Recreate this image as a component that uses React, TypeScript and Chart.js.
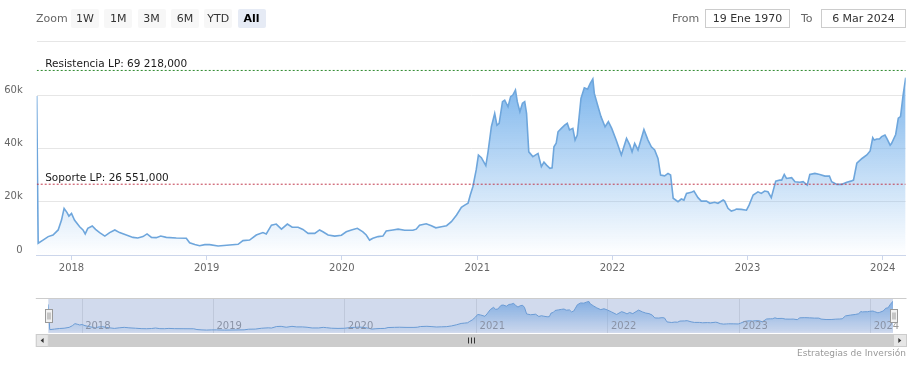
import React, { useEffect, useRef } from "react";
import { Chart, registerables } from "chart.js";
Chart.register(...registerables);

// ---------- data ----------
const dates = [
  "2017-09-29","2017-10-03","2017-10-16","2017-10-30","2017-11-12","2017-11-26","2017-12-05","2017-12-12","2017-12-20","2017-12-25",
  "2018-01-01","2018-01-09","2018-01-23","2018-02-01","2018-02-07","2018-02-14","2018-02-26","2018-03-07","2018-03-18","2018-04-01",
  "2018-04-14","2018-04-28","2018-05-11","2018-05-29","2018-06-16","2018-06-29","2018-07-13","2018-07-24","2018-08-05","2018-08-18",
  "2018-08-30","2018-09-14","2018-10-11","2018-11-07","2018-11-16","2018-11-30","2018-12-13","2018-12-27","2019-01-09","2019-02-01",
  "2019-03-27","2019-04-09","2019-04-27","2019-05-15","2019-06-02","2019-06-11","2019-06-25","2019-07-08","2019-07-22","2019-08-07",
  "2019-08-20","2019-09-05","2019-09-18","2019-10-02","2019-10-20","2019-11-02","2019-11-11","2019-11-25","2019-12-13","2019-12-31",
  "2020-01-13","2020-01-27","2020-02-12","2020-02-27","2020-03-07","2020-03-16","2020-03-25","2020-04-08","2020-04-21","2020-04-30",
  "2020-05-18","2020-06-01","2020-06-19","2020-07-11","2020-07-20","2020-07-29","2020-08-16","2020-08-30","2020-09-11","2020-09-26",
  "2020-10-10","2020-10-23","2020-11-06","2020-11-19","2020-11-28","2020-12-07","2020-12-13","2020-12-20","2020-12-29","2021-01-04",
  "2021-01-12","2021-01-24","2021-01-30","2021-02-08","2021-02-17","2021-02-23","2021-03-01","2021-03-10","2021-03-16","2021-03-25",
  "2021-04-01","2021-04-07","2021-04-14","2021-04-19","2021-04-26","2021-05-03","2021-05-09","2021-05-14","2021-05-20","2021-05-31",
  "2021-06-14","2021-06-23","2021-06-30","2021-07-07","2021-07-16","2021-07-22","2021-07-27","2021-08-02","2021-08-07","2021-08-16",
  "2021-08-25","2021-09-01","2021-09-07","2021-09-16","2021-09-22","2021-09-28","2021-10-08","2021-10-17","2021-10-26","2021-11-02",
  "2021-11-09","2021-11-13","2021-11-22","2021-12-01","2021-12-12","2021-12-21","2021-12-30","2022-01-11","2022-01-25","2022-02-08",
  "2022-02-17","2022-02-23","2022-03-02","2022-03-11","2022-03-27","2022-04-07","2022-04-16","2022-04-25","2022-05-04","2022-05-11",
  "2022-05-22","2022-05-31","2022-06-07","2022-06-14","2022-06-27","2022-07-06","2022-07-13","2022-07-20","2022-08-02","2022-08-09",
  "2022-08-20","2022-08-29","2022-09-12","2022-09-21","2022-10-04","2022-10-13","2022-10-27","2022-10-31","2022-11-09","2022-11-18",
  "2022-11-27","2022-12-02","2022-12-15","2022-12-29","2023-01-05","2023-01-16","2023-01-29","2023-02-07","2023-02-16","2023-02-25",
  "2023-03-06","2023-03-18","2023-03-29","2023-04-03","2023-04-10","2023-04-16","2023-04-30","2023-05-09","2023-05-22","2023-05-31",
  "2023-06-11","2023-06-18","2023-07-02","2023-07-15","2023-07-29","2023-08-10","2023-08-16","2023-08-30","2023-09-13","2023-09-26",
  "2023-10-07","2023-10-14","2023-10-23","2023-11-06","2023-11-19","2023-11-28","2023-12-05","2023-12-09","2023-12-16","2023-12-23",
  "2023-12-29","2024-01-07","2024-01-12","2024-01-21","2024-01-25","2024-02-05","2024-02-12","2024-02-18","2024-02-25","2024-03-03"
];
const prices = [
  59600,4400,5600,6900,7500,9400,13100,17500,15900,14600,
  15600,13100,10600,9400,7900,10000,10900,9600,8400,7100,
  8400,9400,8400,7500,6600,6400,6900,7900,6600,6500,
  7100,6600,6400,6300,4600,3900,3500,3900,3900,3400,
  4000,5400,5600,7500,8400,7900,11200,11600,9700,11600,
  10400,10400,9600,8100,8100,9400,8700,7500,7100,7400,
  8700,9400,10000,8700,7500,5600,6300,6900,7100,9000,
  9400,9700,9300,9300,9700,11200,11700,11000,10200,10600,
  11000,12500,15000,17900,18700,19400,22500,25600,31900,37500,
  36500,33500,38700,48100,53100,48700,49400,57500,58100,55600,
  59400,60000,61900,57500,53700,56900,57500,53100,38700,36900,
  38100,33100,34800,33700,32500,32700,40600,41900,46200,47500,
  48700,49400,46900,47500,43100,45000,58700,62700,62200,64400,
  66000,60600,56200,51900,48100,50000,47500,43100,37500,43700,
  41200,38700,41900,39400,47100,43100,40600,39400,36200,30000,
  29700,30600,30000,21300,20000,21000,20600,23100,23500,24000,
  21500,20200,20200,19400,19800,19400,20600,20200,17500,16500,
  16900,17200,17100,16800,18700,22500,23700,23100,24000,23700,
  21500,27700,28100,28100,30200,28700,29000,27500,27300,27500,
  26200,30200,30600,30200,29600,29600,27500,26500,26500,27300,
  27700,28100,34400,36200,37500,39000,44000,43100,43500,43500,
  44400,45000,43700,41200,41900,45200,51300,51900,60000,66500
];
const yearTicks = [2018, 2019, 2020, 2021, 2022, 2023, 2024];
const yTicks = [0, 20000, 40000, 60000, 80000];
const plotLineValues = [69218, 26551];
const plotLineLabels = ["Resistencia LP: 69 218,000", "Soporte LP: 26 551,000"];
const plotLineColors = ["#2f8a2f", "#c23a4e"];
const zoomButtons = ["1W", "1M", "3M", "6M", "YTD", "All"];
const selectedButton = "All";
const fromLabel = "From";
const toLabel = "To";
const fromDate = "19 Ene 1970";
const toDate = "6 Mar 2024";
const creditsText = "Estrategias de Inversión";

const FONT = "'DejaVu Sans', Verdana, sans-serif";

const xs = dates.map((d) => Date.parse(d));
const points = xs.map((x, i) => ({ x, y: prices[i] }));
const xMin = xs[0];
const xMax = xs[xs.length - 1];
const yearMs = yearTicks.map((y) => Date.UTC(y, 0, 1));
const pMax = Math.max(...prices);
const pMin = Math.min(...prices);
const pSpan = pMax - pMin;

function areaGradient(ctx: any, a0: number, a1: number) {
  const chart = ctx.chart;
  const area = chart.chartArea;
  if (!area || !chart.scales.y) return "rgba(124,181,236,0.3)";
  const top = chart.scales.y.getPixelForValue(pMax);
  const g = chart.ctx.createLinearGradient(0, top, 0, area.bottom);
  g.addColorStop(0, `rgba(124,181,236,${a0})`);
  g.addColorStop(1, `rgba(124,181,236,${a1})`);
  return g;
}

const plotLineLabelPlugin = {
  id: "plotLineLabels",
  afterDatasetsDraw(chart: any) {
    const { ctx, chartArea, scales } = chart;
    ctx.save();
    ctx.font = `10.5px ${FONT}`;
    ctx.fillStyle = "#1a1a1a";
    ctx.textAlign = "left";
    ctx.textBaseline = "alphabetic";
    plotLineValues.forEach((v, i) => {
      const py = scales.y.getPixelForValue(v);
      ctx.fillText(plotLineLabels[i], chartArea.left + 8.5, py - 3);
    });
    ctx.restore();
  },
};

const navigatorPlugin = {
  id: "navigatorDecor",
  afterDatasetsDraw(chart: any) {
    const { ctx, chartArea, scales } = chart;
    const { left, right, top, bottom } = chartArea;
    ctx.save();
    // year labels inside navigator
    ctx.font = `10px ${FONT}`;
    ctx.fillStyle = "#999999";
    ctx.textAlign = "left";
    ctx.textBaseline = "middle";
    yearMs.forEach((v, i) => {
      const px = scales.x.getPixelForValue(v);
      ctx.fillText(String(yearTicks[i]), px + 3, bottom - 7);
    });
    // mask over selected range (all)
    ctx.fillStyle = "rgba(102,133,194,0.3)";
    ctx.fillRect(left, top, right - left, bottom - top);
    // outline
    ctx.strokeStyle = "#cccccc";
    ctx.lineWidth = 1;
    ctx.beginPath();
    ctx.moveTo(left - 12.5, Math.round(top) + 0.5);
    ctx.lineTo(right + 13.5, Math.round(top) + 0.5);
    ctx.stroke();
    // scrollbar
    const sTop = bottom + 1;
    const sH = 13;
    ctx.fillStyle = "#f2f2f2";
    ctx.fillRect(left - 12.5, sTop, right - left + 26, sH);
    ctx.fillStyle = "#cccccc";
    ctx.fillRect(left, sTop, right - left, sH);
    // buttons
    ctx.fillStyle = "#e6e6e6";
    ctx.fillRect(left - 12.5, sTop, 12.5, sH);
    ctx.fillRect(right, sTop, 13.5, sH);
    ctx.strokeStyle = "#cccccc";
    ctx.strokeRect(left - 12, sTop + 0.5, 12, sH - 1);
    ctx.strokeRect(right + 0.5, sTop + 0.5, 13, sH - 1);
    // arrows
    ctx.fillStyle = "#333333";
    const my = sTop + sH / 2;
    const lx = left - 6.2;
    ctx.beginPath();
    ctx.moveTo(lx - 1.5, my);
    ctx.lineTo(lx + 1.5, my - 2.5);
    ctx.lineTo(lx + 1.5, my + 2.5);
    ctx.closePath();
    ctx.fill();
    const rx = right + 6.8;
    ctx.beginPath();
    ctx.moveTo(rx + 1.5, my);
    ctx.lineTo(rx - 1.5, my - 2.5);
    ctx.lineTo(rx - 1.5, my + 2.5);
    ctx.closePath();
    ctx.fill();
    // rifles
    const cx = Math.round((left + right) / 2);
    ctx.strokeStyle = "#333333";
    ctx.beginPath();
    for (let k = -3; k <= 3; k += 3) {
      ctx.moveTo(cx + k + 0.5, my - 3);
      ctx.lineTo(cx + k + 0.5, my + 3);
    }
    ctx.stroke();
    // handles
    const hy = (top + bottom) / 2;
    [left, right].forEach((hx) => {
      const x0 = Math.round(hx - 3.5) + 0.5;
      const y0 = Math.round(hy - 6.5) + 0.5;
      ctx.fillStyle = "#f2f2f2";
      ctx.fillRect(x0, y0, 7, 13);
      ctx.strokeStyle = "#999999";
      ctx.strokeRect(x0, y0, 7, 13);
      ctx.beginPath();
      ctx.moveTo(x0 + 2.5, y0 + 3);
      ctx.lineTo(x0 + 2.5, y0 + 10);
      ctx.moveTo(x0 + 4.5, y0 + 3);
      ctx.lineTo(x0 + 4.5, y0 + 10);
      ctx.stroke();
    });
    ctx.restore();
  },
};

export default function App() {
  const mainRef = useRef<HTMLCanvasElement>(null);
  const navRef = useRef<HTMLCanvasElement>(null);

  useEffect(() => {
    const main = new Chart(mainRef.current as HTMLCanvasElement, {
      type: "line",
      data: {
        datasets: [
          {
            data: points,
            borderColor: "#6ea6dc",
            borderWidth: 1.6,
            pointRadius: 0,
            tension: 0,
            fill: "origin",
            backgroundColor: (c: any) => areaGradient(c, 1, 0),
            order: 2,
          } as any,
          ...plotLineValues.map((v, i) => ({
            data: [
              { x: xMin, y: v },
              { x: xMax, y: v },
            ],
            borderColor: plotLineColors[i],
            borderWidth: 1,
            borderDash: [2, 2],
            pointRadius: 0,
            fill: false,
            order: 0,
          })),
        ],
      },
      options: {
        responsive: false,
        animation: false,
        events: [],
        layout: { padding: { top: 41.7, right: 13.3, left: 0, bottom: 0 } },
        plugins: { legend: { display: false }, tooltip: { enabled: false } },
        scales: {
          x: {
            type: "linear",
            min: xMin,
            max: xMax,
            afterBuildTicks: (s: any) => {
              s.ticks = yearMs.map((v) => ({ value: v }));
            },
            afterFit: (s: any) => {
              s.height = 30;
            },
            grid: { drawOnChartArea: false, drawTicks: true, tickLength: 5, tickColor: "#ccd6eb" },
            border: { display: true, color: "#ccd6eb", width: 1 },
            ticks: {
              autoSkip: false,
              maxRotation: 0,
              padding: 2,
              color: "#666666",
              font: { family: FONT, size: 10 },
              callback: (v: any) => String(new Date(v).getUTCFullYear()),
            },
          },
          y: {
            type: "linear",
            min: 0,
            max: 80000,
            afterBuildTicks: (s: any) => {
              s.ticks = yTicks.map((v) => ({ value: v }));
            },
            afterFit: (s: any) => {
              s.width = 36.7;
            },
            grid: { color: "#e6e6e6", drawTicks: false },
            border: { display: false },
            ticks: {
              padding: 14,
              crossAlign: "near",
              labelOffset: -5,
              color: "#666666",
              font: { family: FONT, size: 10 },
              callback: (v: any) => (v === 80000 ? "" : v === 0 ? "0" : v / 1000 + "k"),
            },
          },
        },
      } as any,
      plugins: [plotLineLabelPlugin],
    });

    const nav = new Chart(navRef.current as HTMLCanvasElement, {
      type: "line",
      data: {
        datasets: [
          {
            data: points,
            borderColor: "#6ea6dc",
            borderWidth: 1,
            pointRadius: 0,
            tension: 0,
            fill: "origin",
            backgroundColor: (c: any) => areaGradient(c, 0.85, 0.05),
          } as any,
        ],
      },
      options: {
        responsive: false,
        animation: false,
        events: [],
        layout: { padding: { top: 13.3, right: 26, left: 48.3, bottom: 17 } },
        plugins: { legend: { display: false }, tooltip: { enabled: false } },
        scales: {
          x: {
            type: "linear",
            min: xMin,
            max: xMax,
            afterBuildTicks: (s: any) => {
              s.ticks = yearMs.map((v) => ({ value: v }));
            },
            afterFit: (s: any) => {
              s.height = 0;
            },
            grid: { color: "#e6e6e6", drawTicks: false },
            border: { display: false },
            ticks: { display: false },
          },
          y: {
            type: "linear",
            display: false,
            min: pMin - 0.1 * pSpan,
            max: pMax + 0.1 * pSpan,
          },
        },
      } as any,
      plugins: [navigatorPlugin],
    });

    return () => {
      main.destroy();
      nav.destroy();
    };
  }, []);

  const btnBase: React.CSSProperties = {
    position: "absolute",
    top: 9,
    width: 28,
    height: 19,
    lineHeight: "19px",
    textAlign: "center",
    fontSize: 11,
    color: "#333333",
    background: "#f7f7f7",
    borderRadius: 2,
  };
  const boxBase: React.CSSProperties = {
    position: "absolute",
    top: 9,
    width: 85,
    height: 19,
    lineHeight: "17px",
    boxSizing: "border-box",
    border: "1px solid #cccccc",
    textAlign: "center",
    fontSize: 11,
    color: "#333333",
    background: "#ffffff",
  };

  return (
    <div
      style={{
        position: "absolute",
        left: 0,
        top: 0,
        width: 919,
        height: 365,
        background: "#ffffff",
        fontFamily: FONT,
        overflow: "hidden",
      }}
    >
      <canvas
        ref={mainRef}
        width={919}
        height={285}
        style={{ position: "absolute", left: 0, top: 0, width: 919, height: 285 }}
      />
      <canvas
        ref={navRef}
        width={919}
        height={65}
        style={{ position: "absolute", left: 0, top: 285, width: 919, height: 65 }}
      />
      <div style={{ position: "absolute", left: 36, top: 9, height: 19, lineHeight: "19px", fontSize: 11, color: "#666666" }}>
        Zoom
      </div>
      {zoomButtons.map((b, i) => (
        <div
          key={b}
          style={{
            ...btnBase,
            left: 71 + i * 33.3,
            ...(b === selectedButton ? { background: "#e6ebf5", fontWeight: "bold", color: "#000000" } : {}),
          }}
        >
          {b}
        </div>
      ))}
      <div style={{ position: "absolute", left: 672, top: 9, height: 19, lineHeight: "19px", fontSize: 11, color: "#666666" }}>
        {fromLabel}
      </div>
      <div style={{ ...boxBase, left: 705 }}>{fromDate}</div>
      <div style={{ position: "absolute", left: 801, top: 9, height: 19, lineHeight: "19px", fontSize: 11, color: "#666666" }}>
        {toLabel}
      </div>
      <div style={{ ...boxBase, left: 821 }}>{toDate}</div>
      <div
        style={{
          position: "absolute",
          right: 13,
          top: 346,
          height: 14,
          lineHeight: "14px",
          fontSize: 9,
          color: "#999999",
          whiteSpace: "nowrap",
        }}
      >
        {creditsText}
      </div>
    </div>
  );
}
